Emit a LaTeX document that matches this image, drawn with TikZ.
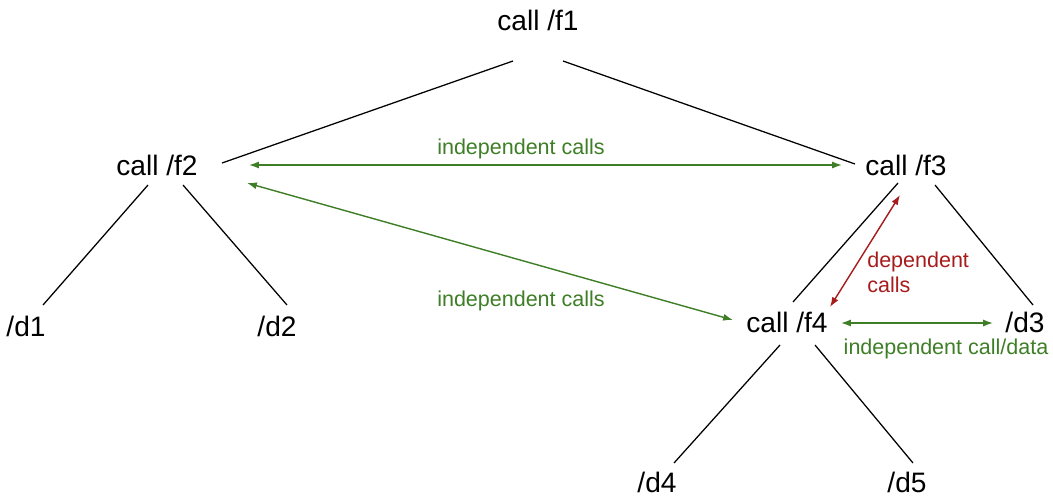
\documentclass[tikz,border=0pt]{standalone}
\usepackage{fontspec}
\setmainfont{Liberation Sans}
\usepackage{xcolor}
\usetikzlibrary{arrows.meta}

\definecolor{indepgreen}{RGB}{62,126,38}
\definecolor{depred}{RGB}{166,28,28}

\begin{document}
\begin{tikzpicture}[x=0.025cm,y=-0.025cm,
  callnode/.style={anchor=base,inner sep=0pt,font=\fontsize{20}{23}\selectfont},
  remark/.style={inner sep=0pt,font=\fontsize{15.3}{17.7}\selectfont},
  treeline/.style={line width=0.9pt},
  linkarrow/.style={line width=1pt,>={Latex[length=7pt,width=5pt]},<->},
  indep/.style={linkarrow,indepgreen},
  dep/.style={linkarrow,depred}]
  \useasboundingbox (0,0) rectangle (1053,496);

  % call tree
  \node[callnode] (f1) at (538,30) {call /f1};
  \node[callnode] (f2) at (157,175) {call /f2};
  \node[callnode] (f3) at (906,175) {call /f3};
  \node[callnode] (d1) at (26,336) {/d1};
  \node[callnode] (d2) at (277,336) {/d2};
  \node[callnode] (f4) at (787,332) {call /f4};
  \node[callnode] (d3) at (1025,332) {/d3};
  \node[callnode] (d4) at (657,492) {/d4};
  \node[callnode] (d5) at (907,492) {/d5};

  \draw[treeline] ([shift={(-25,31)}]f1.base) -- ([shift={(65,-12)}]f2.base);
  \draw[treeline] ([shift={(25,31)}]f1.base) -- ([shift={(-51,-11)}]f3.base);
  \draw[treeline] ([shift={(-9,10)}]f2.base) -- ([shift={(17,-31)}]d1.base);
  \draw[treeline] ([shift={(26,10)}]f2.base) -- ([shift={(10,-31)}]d2.base);
  \draw[treeline] ([shift={(-8,8)}]f3.base) -- ([shift={(6,-30)}]f4.base);
  \draw[treeline] ([shift={(29,10)}]f3.base) -- ([shift={(8,-27)}]d3.base);
  \draw[treeline] ([shift={(-7,13)}]f4.base) -- ([shift={(17,-29)}]d4.base);
  \draw[treeline] ([shift={(28,13)}]f4.base) -- ([shift={(6,-29)}]d5.base);

  % links between calls
  \draw[indep] ([shift={(92,-10)}]f2.base) -- ([shift={(-64,-10)}]f3.base);
  \draw[indep] ([shift={(90,8)}]f2.base) -- ([shift={(-54,-12)}]f4.base);
  \draw[indep] ([shift={(54,-9)}]f4.base) -- ([shift={(-32,-9)}]d3.base);
  \draw[dep] ([shift={(-6,20)}]f3.base) -- ([shift={(43,-25)}]f4.base);

  \node[remark,anchor=base,text=indepgreen] (l1) at (521,154) {independent calls};
  \node[remark,anchor=base,text=indepgreen] (l2) at (521,306) {independent calls};
  \node[remark,anchor=base,text=indepgreen] (l3) at (946,354) {independent call/data};
  \node[remark,anchor=north west,align=left,text=depred] (l4) at (867,252) {dependent\\calls};
\end{tikzpicture}
\end{document}
